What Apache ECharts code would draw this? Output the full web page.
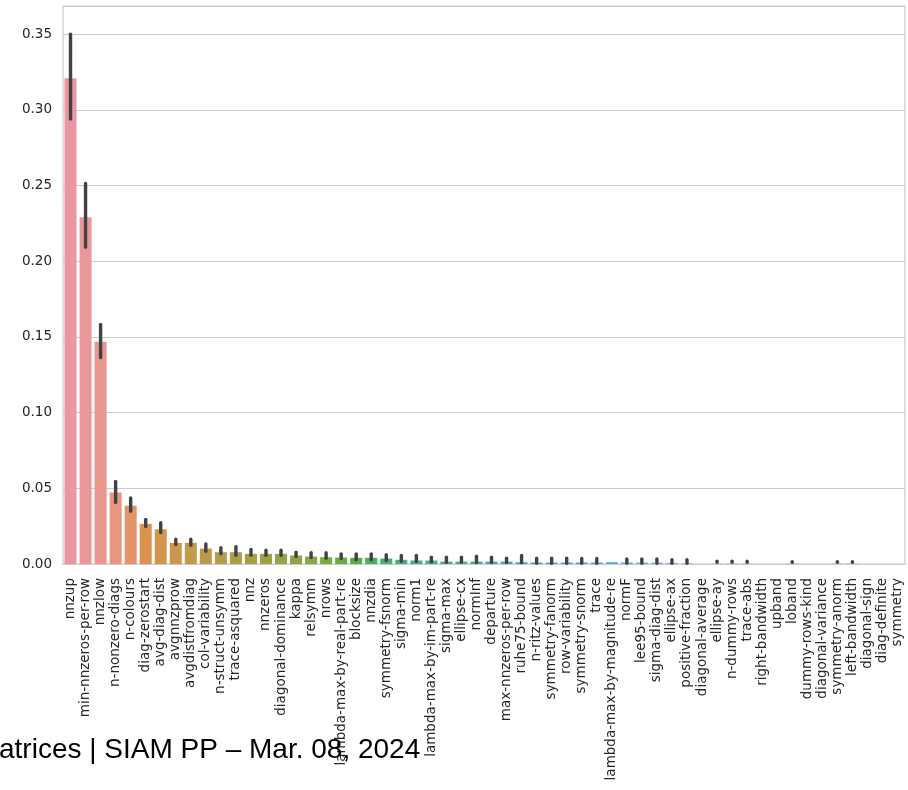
<!DOCTYPE html>
<html>
<head>
<meta charset="utf-8">
<script src="https://cdn.jsdelivr.net/npm/echarts@6/dist/echarts.min.js"></script>
<style>
html, body { margin: 0; padding: 0; background: #fff; }
#chart { width: 908px; height: 790px; }
</style>
</head>
<body>
<div id="chart"></div>
<script>
// feature importances, sorted as in the plot
var features = ["nnzup", "min-nnzeros-per-row", "nnzlow", "n-nonzero-diags", "n-colours",
    "diag-zerostart", "avg-diag-dist", "avgnnzprow", "avgdistfromdiag", "col-variability",
    "n-struct-unsymm", "trace-asquared", "nnz", "nnzeros", "diagonal-dominance", "kappa",
    "relsymm", "nrows", "lambda-max-by-real-part-re", "blocksize", "nnzdia", "symmetry-fsnorm",
    "sigma-min", "norm1", "lambda-max-by-im-part-re", "sigma-max", "ellipse-cx", "normInf",
    "departure", "max-nnzeros-per-row", "ruhe75-bound", "n-ritz-values", "symmetry-fanorm",
    "row-variability", "symmetry-snorm", "trace", "lambda-max-by-magnitude-re", "normF",
    "lee95-bound", "sigma-diag-dist", "ellipse-ax", "positive-fraction", "diagonal-average",
    "ellipse-ay", "n-dummy-rows", "trace-abs", "right-bandwidth", "upband", "loband",
    "dummy-rows-kind", "diagonal-variance", "symmetry-anorm", "left-bandwidth", "diagonal-sign",
    "diag-definite", "symmetry"];

var importance = [0.3208, 0.2290, 0.1468, 0.0473, 0.0385, 0.0265, 0.0229, 0.0140, 0.0140, 0.0102,
    0.0078, 0.0078, 0.0067, 0.0067, 0.0067, 0.0056, 0.0049, 0.0045, 0.0043, 0.0041,
    0.0041, 0.0036, 0.0028, 0.0023, 0.0023, 0.0016, 0.0016, 0.0016, 0.0016, 0.0016,
    0.0012, 0.0010, 0.0010, 0.0010, 0.0010, 0.0010, 0.0012, 0.0010, 0.0010, 0.0010,
    0.0008, 0.0005, 0, 0.0003, 0.0003, 0.0003, 0, 0, 0.0003, 0,
    0, 0.0003, 0.0003, 0, 0, 0];

// confidence interval ends (null = no error bar)
var ciLow = [0.2940, 0.2092, 0.1363, 0.0407, 0.0348, 0.0247, 0.0208, 0.0128, 0.0124, 0.0084,
    0.0067, 0.0058, 0.0058, 0.0058, 0.0056, 0.0049, 0.0043, 0.0038, 0.0036, 0.0028,
    0.0028, 0.0023, 0.0018, 0.0016, 0.0014, 0.0012, 0.0012, 0.0010, 0.0010, 0.0010,
    0.0008, 0.0005, 0.0005, 0.0005, 0.0005, 0.0005, null, 0.0005, 0.0005, 0.0005,
    0.0005, 0.0005, null, 0.0012, 0.0012, 0.0012, null, null, 0.0012, null,
    null, 0.0012, 0.0012, null, null, null];

var ciHigh = [0.3500, 0.2514, 0.1583, 0.0546, 0.0436, 0.0295, 0.0273, 0.0163, 0.0163, 0.0133,
    0.0107, 0.0115, 0.0096, 0.0091, 0.0091, 0.0078, 0.0074, 0.0074, 0.0067, 0.0067,
    0.0067, 0.0061, 0.0056, 0.0056, 0.0045, 0.0045, 0.0045, 0.0051, 0.0045, 0.0038,
    0.0056, 0.0038, 0.0038, 0.0038, 0.0036, 0.0036, null, 0.0034, 0.0034, 0.0034,
    0.0028, 0.0028, null, 0.0018, 0.0018, 0.0018, null, null, 0.0016, null,
    null, 0.0016, 0.0016, null, null, null];

var footerText = "atrices | SIAM PP \u2013 Mar. 08, 2024";

// seaborn-style husl palette (husl v2), desaturated
var M = [[3.2406, -1.5372, -0.4986], [-0.9689, 1.8758, 0.0415], [0.0557, -0.2040, 1.0570]];

function maxChroma(L, H) {
    var hrad = H * Math.PI / 180;
    var sinH = Math.sin(hrad), cosH = Math.cos(hrad);
    var sub1 = Math.pow(L + 16, 3) / 1560896.0;
    var sub2 = sub1 > 0.008856 ? sub1 : L / 903.3;
    var result = Infinity;
    for (var r = 0; r < 3; r++) {
        var m1 = M[r][0], m2 = M[r][1], m3 = M[r][2];
        var top = (0.99915 * m1 + 1.05122 * m2 + 1.14460 * m3) * sub2;
        var rbottom = 0.86330 * m3 - 0.17266 * m2;
        var lbottom = 0.12949 * m3 - 0.38848 * m1;
        var bottom = (rbottom * sinH + lbottom * cosH) * sub2;
        [0, 1].forEach(function (t) {
            var C = L * (top - 1.05122 * t) / (bottom + 0.17266 * sinH * t);
            if (C > 0 && C < result) result = C;
        });
    }
    return result;
}

function fromLinear(c) {
    return c <= 0.0031308 ? 12.92 * c : 1.055 * Math.pow(c, 1 / 2.4) - 0.055;
}

function huslToRgb(H, S, L) {
    var C = maxChroma(L, H) / 100 * S;
    var hrad = H * Math.PI / 180;
    var U = Math.cos(hrad) * C, V = Math.sin(hrad) * C;
    var t = (L + 16) / 116;
    var Y = Math.pow(t, 3) > 0.008856 ? Math.pow(t, 3) : (116 * t - 16) / 903.3;
    var varU = U / (13 * L) + 0.19784;
    var varV = V / (13 * L) + 0.46834;
    var X = 0 - (9 * Y * varU) / ((varU - 4) * varV - varU * varV);
    var Z = (9 * Y - 15 * varV * Y - varV * X) / (3 * varV);
    return M.map(function (row) {
        var v = fromLinear(row[0] * X + row[1] * Y + row[2] * Z);
        return Math.min(1, Math.max(0, v));
    });
}

function barColor(i, n) {
    var h = ((i / n + 0.01) % 1) * 359;
    var rgb = huslToRgb(h, 0.9 * 99, 0.7 * 99);
    var l = (Math.max.apply(null, rgb) + Math.min.apply(null, rgb)) / 2;
    rgb = rgb.map(function (c) { return l + 0.75 * (c - l); });
    return 'rgb(' + rgb.map(function (c) { return Math.round(c * 255); }).join(',') + ')';
}

var barData = importance.map(function (v, i) {
    return {value: v, itemStyle: {color: barColor(i, features.length)}};
});

var errData = [];
for (var i = 0; i < features.length; i++) {
    if (ciLow[i] !== null) errData.push([i, ciLow[i], ciHigh[i]]);
}

var chart = echarts.init(document.getElementById('chart'));
var option = {
    animation: false,
    grid: {
        left: 63, right: 3, top: 6, bottom: 226,
        show: true, borderColor: '#cccccc', borderWidth: 1.2
    },
    xAxis: {
        type: 'category',
        data: features,
        axisLine: {show: false},
        axisTick: {show: false},
        axisLabel: {
            interval: 0, rotate: 90, margin: 14,
            color: '#262626', fontSize: 13.5, fontFamily: 'DejaVu Sans'
        }
    },
    yAxis: {
        type: 'value',
        min: 0, max: 0.3686, interval: 0.05,
        axisLine: {show: false},
        axisTick: {show: false},
        splitLine: {lineStyle: {color: '#cccccc', width: 1.2}},
        axisLabel: {
            color: '#262626', fontSize: 13.5, fontFamily: 'DejaVu Sans', margin: 11,
            showMaxLabel: false,
            formatter: function (v) { return v.toFixed(2); }
        }
    },
    series: [
        {
            type: 'bar',
            data: barData,
            barCategoryGap: '20%'
        },
        {
            type: 'custom',
            data: errData,
            z: 5,
            renderItem: function (params, api) {
                var p1 = api.coord([api.value(0), api.value(1)]);
                var p2 = api.coord([api.value(0), api.value(2)]);
                return {
                    type: 'line',
                    shape: {x1: p1[0], y1: p1[1], x2: p2[0], y2: p2[1]},
                    style: {stroke: '#424242', lineWidth: 3.4, lineCap: 'round'}
                };
            }
        }
    ],
    graphic: [{
        type: 'text',
        left: -1,
        top: 736,
        z: 10,
        style: {
            text: footerText,
            font: '28px "Liberation Sans", Arial, sans-serif',
            fill: '#000000'
        }
    }]
};
chart.setOption(option);
</script>
</body>
</html>
